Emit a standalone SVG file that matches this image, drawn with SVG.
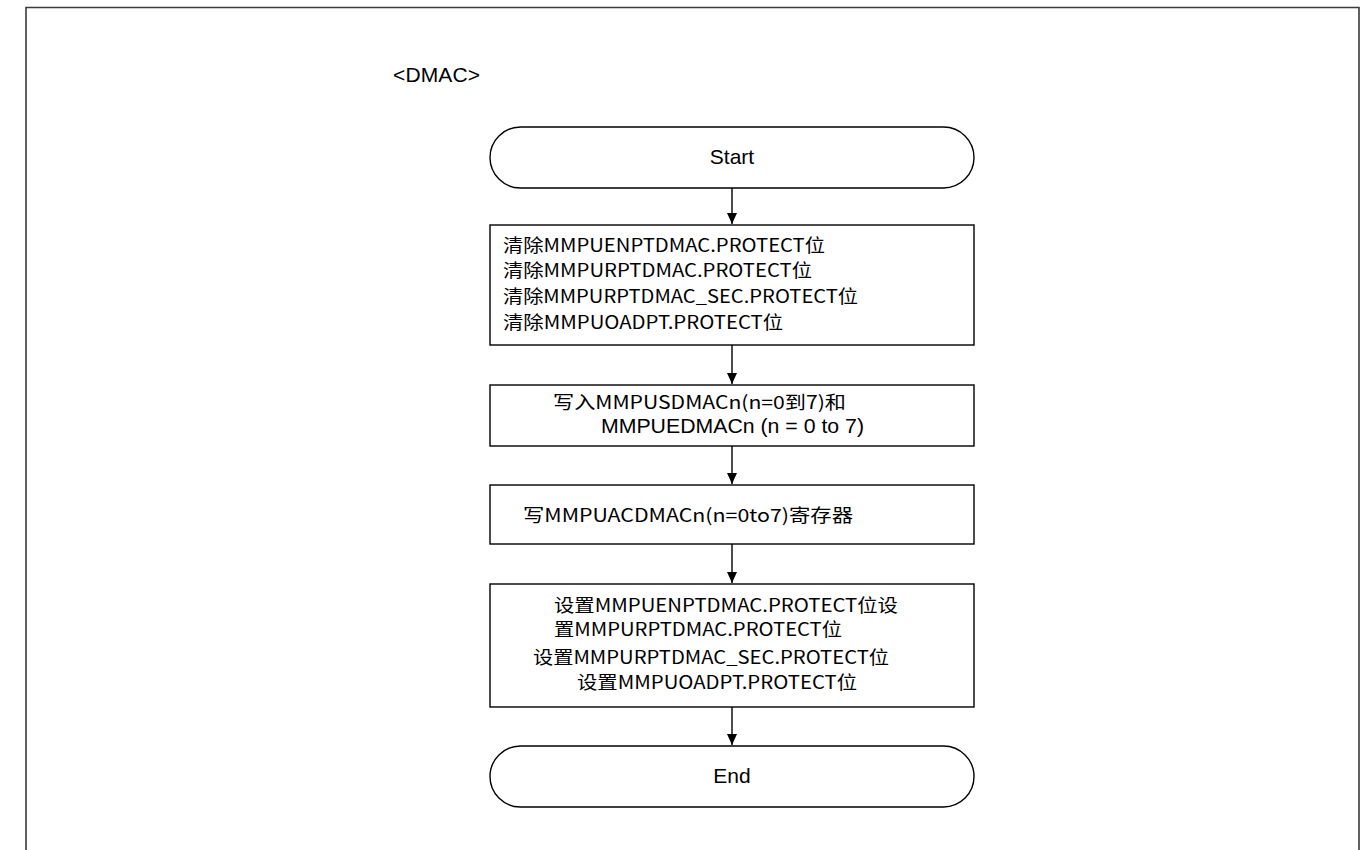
<svg xmlns="http://www.w3.org/2000/svg" width="1370" height="850" viewBox="0 0 1370 850">
<style>
.frame{fill:none;stroke:#3a3a3a;stroke-width:1.6}
.box{fill:#fff;stroke:#000;stroke-width:1.4}
.conn{stroke:#000;stroke-width:1.4;fill:none}
.lat{font-family:"Liberation Sans",Arial,sans-serif;font-size:21px;fill:#000}
.cjk{font-family:"Noto Sans CJK SC","Noto Sans",sans-serif;font-size:18px;fill:#000}
</style>
<defs>
<marker id="arr" markerUnits="userSpaceOnUse" markerWidth="12" markerHeight="12" viewBox="0 0 12 12" refX="11" refY="6" orient="auto">
<path d="M0,1 L11,6 L0,11 Z" fill="#000"/>
</marker>
</defs>
<rect width="1370" height="850" fill="#fff"/>
<path class="frame" d="M26,852 V7.5 H1359 V852"/>
<text class="lat" x="393" y="82" textLength="87">&lt;DMAC&gt;</text>

<g id="connectors">
<line class="conn" x1="732" y1="188" x2="732" y2="224" marker-end="url(#arr)"/>
<line class="conn" x1="732" y1="345" x2="732" y2="384" marker-end="url(#arr)"/>
<line class="conn" x1="732" y1="446" x2="732" y2="484" marker-end="url(#arr)"/>
<line class="conn" x1="732" y1="544" x2="732" y2="583" marker-end="url(#arr)"/>
<line class="conn" x1="732" y1="707" x2="732" y2="745" marker-end="url(#arr)"/>
</g>

<g id="start">
<rect class="box" x="490" y="127" width="484" height="61" rx="30.5" ry="30.5"/>
<text class="lat" x="732" y="164" text-anchor="middle">Start</text>
</g>

<g id="clear">
<rect class="box" x="490" y="225" width="484" height="120"/>
<text class="cjk" x="503" y="252" textLength="322" lengthAdjust="spacingAndGlyphs">清除MMPUENPTDMAC.PROTECT位</text>
<text class="cjk" x="503" y="277" textLength="309" lengthAdjust="spacingAndGlyphs">清除MMPURPTDMAC.PROTECT位</text>
<text class="cjk" x="503" y="303" textLength="355" lengthAdjust="spacingAndGlyphs">清除MMPURPTDMAC_SEC.PROTECT位</text>
<text class="cjk" x="503" y="329" textLength="280" lengthAdjust="spacingAndGlyphs">清除MMPUOADPT.PROTECT位</text>
</g>

<g id="write-range">
<rect class="box" x="490" y="385" width="484" height="61"/>
<text class="cjk" x="553" y="409" textLength="293" lengthAdjust="spacingAndGlyphs">写入MMPUSDMACn(n=0到7)和</text>
<text class="lat" x="601" y="433" textLength="263" lengthAdjust="spacingAndGlyphs">MMPUEDMACn (n = 0 to 7)</text>
</g>

<g id="write-ac">
<rect class="box" x="490" y="485" width="484" height="59"/>
<text class="cjk" x="523" y="522" textLength="330" lengthAdjust="spacingAndGlyphs">写MMPUACDMACn(n=0to7)寄存器</text>
</g>

<g id="set">
<rect class="box" x="490" y="584" width="484" height="123"/>
<text class="cjk" x="554" y="612" textLength="344" lengthAdjust="spacingAndGlyphs">设置MMPUENPTDMAC.PROTECT位设</text>
<text class="cjk" x="554" y="636" textLength="288" lengthAdjust="spacingAndGlyphs">置MMPURPTDMAC.PROTECT位</text>
<text class="cjk" x="533" y="664" textLength="356" lengthAdjust="spacingAndGlyphs">设置MMPURPTDMAC_SEC.PROTECT位</text>
<text class="cjk" x="577" y="689" textLength="280" lengthAdjust="spacingAndGlyphs">设置MMPUOADPT.PROTECT位</text>
</g>

<g id="end">
<rect class="box" x="490" y="746" width="484" height="61" rx="30.5" ry="30.5"/>
<text class="lat" x="732" y="783" text-anchor="middle">End</text>
</g>
</svg>
